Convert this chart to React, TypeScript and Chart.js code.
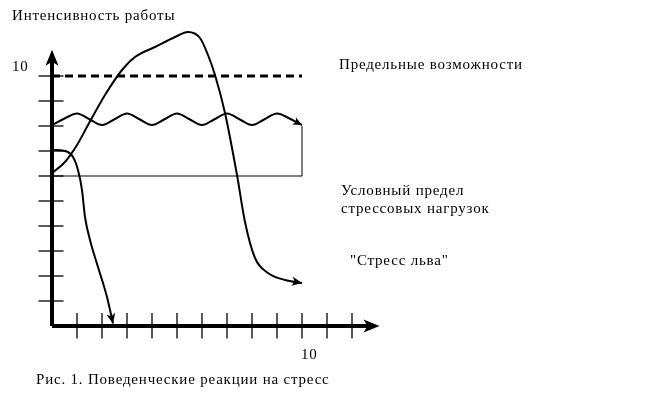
import React, { useEffect, useRef } from "react";
import { Chart, registerables } from "chart.js";

Chart.register(...registerables);

// ---- data (units: one tick = 1) ----
const xAxisX = [0, 12.7];
const xAxisY = [0, 0];
const yAxisX = [0, 0];
const yAxisY = [0, 10.65];
const xAxisTip = 13.1;
const yAxisTip = 11.05;

const xTickValues = [1, 2, 3, 4, 5, 6, 7, 8, 9, 10, 11, 12];
const yTickValues = [1, 2, 3, 4, 5, 6, 7, 8, 9, 10];

const limitDashX = [0, 10];
const limitDashY = [10, 10];

const stressLimitX = [0, 10, 10];
const stressLimitY = [6, 6, 8];

const waveX = [0, 0.5, 1, 1.5, 2, 2.5, 3, 3.5, 4, 4.5, 5, 5.5, 6, 6.5, 7, 7.5, 8, 8.5, 9, 9.5, 10];
const waveY = [8.04, 8.3, 8.5, 8.27, 8.04, 8.27, 8.5, 8.27, 8.04, 8.27, 8.5, 8.27, 8.04, 8.27, 8.5, 8.27, 8.04, 8.27, 8.5, 8.3, 8.04];

const lionX = [0, 0.52, 1.0, 1.44, 2.12, 2.8, 3.32, 4.12, 4.92, 5.44, 5.92, 6.24, 6.52, 6.92, 7.4, 7.72, 8.12, 8.64, 9.32, 10];
const lionY = [6.12, 6.56, 7.24, 8.04, 9.24, 10.24, 10.76, 11.16, 11.56, 11.76, 11.52, 10.84, 10.04, 8.52, 6.04, 4.16, 2.72, 2.12, 1.84, 1.72];

const fallX = [0, 0.52, 0.84, 1.04, 1.2, 1.32, 1.52, 1.84, 2.2, 2.44];
const fallY = [7.04, 7.0, 6.76, 6.24, 5.44, 4.36, 3.44, 2.36, 1.16, 0.1];

const yAxisTitle = "Интенсивность работы";
const yTopLabel = "10";
const xTenLabel = "10";
const maxLabel = "Предельные возможности";
const stressLines = ["Условный предел", "стрессовых нагрузок"];
const lionLabel = "\"Стресс льва\"";
const caption = "Рис. 1. Поведенческие реакции на стресс";

const pts = (xs: number[], ys: number[]) => xs.map((x, i) => ({ x, y: ys[i] }));

const FONT = '15px "Liberation Serif", "Times New Roman", serif';

function arrowHead(ctx: CanvasRenderingContext2D, tx: number, ty: number, fx: number, fy: number, len: number, half: number) {
  const a = Math.atan2(ty - fy, tx - fx);
  const c = Math.cos(a), s = Math.sin(a);
  ctx.beginPath();
  ctx.moveTo(tx, ty);
  ctx.lineTo(tx - len * c + half * s, ty - len * s - half * c);
  ctx.lineTo(tx - len * 0.75 * c, ty - len * 0.75 * s);
  ctx.lineTo(tx - len * c - half * s, ty - len * s + half * c);
  ctx.closePath();
  ctx.fill();
}

const decorPlugin = {
  id: "decor",
  afterDatasetsDraw(chart: any) {
    const ctx: CanvasRenderingContext2D = chart.ctx;
    const xs = chart.scales.x;
    const ys = chart.scales.y;
    const px = (v: number) => xs.getPixelForValue(v);
    const py = (v: number) => ys.getPixelForValue(v);
    ctx.save();
    ctx.strokeStyle = "#000";
    ctx.fillStyle = "#000";
    // ticks
    ctx.lineWidth = 1.3;
    for (const v of yTickValues) {
      ctx.beginPath();
      ctx.moveTo(px(-0.54), py(v));
      ctx.lineTo(px(0.46), py(v));
      ctx.stroke();
    }
    for (const v of xTickValues) {
      ctx.beginPath();
      ctx.moveTo(px(v), py(0.52));
      ctx.lineTo(px(v), py(-0.5));
      ctx.stroke();
    }
    // axis arrows
    arrowHead(ctx, px(0), py(yAxisTip), px(0), py(0), 16, 6.5);
    arrowHead(ctx, px(xAxisTip), py(0), px(0), py(0), 16, 6.5);
    // curve arrows
    const n1 = waveX.length;
    arrowHead(ctx, px(waveX[n1 - 1]), py(waveY[n1 - 1]), px(waveX[n1 - 2]), py(waveY[n1 - 2]), 9, 4);
    const n2 = lionX.length;
    arrowHead(ctx, px(lionX[n2 - 1]), py(lionY[n2 - 1]), px(lionX[n2 - 2]), py(lionY[n2 - 2]), 10, 4.5);
    const n3 = fallX.length;
    arrowHead(ctx, px(fallX[n3 - 1]), py(fallY[n3 - 1]), px(fallX[n3 - 2]), py(fallY[n3 - 2]), 10, 4.5);
    // texts
    ctx.font = FONT;
    (ctx as any).letterSpacing = "0.8px";
    ctx.textBaseline = "alphabetic";
    ctx.textAlign = "left";
    ctx.fillText(yAxisTitle, px(-1.6), py(12.24));
    ctx.fillText(yTopLabel, px(-1.6), py(10.2));
    ctx.fillText(maxLabel, px(11.48), py(10.28));
    ctx.fillText(stressLines[0], px(11.56), py(5.24));
    ctx.fillText(stressLines[1], px(11.56), py(4.52));
    ctx.fillText(lionLabel, px(11.92), py(2.44));
    ctx.fillText(xTenLabel, px(9.96), py(-1.32));
    ctx.fillText(caption, px(-0.64), py(-2.3));
    ctx.restore();
  },
};

export default function App() {
  const ref = useRef<HTMLCanvasElement>(null);
  useEffect(() => {
    if (!ref.current) return;
    const black = "#000";
    const base = { borderColor: black, pointRadius: 0, showLine: true, fill: false };
    const chart = new Chart(ref.current, {
      type: "scatter",
      data: {
        datasets: [
          { ...base, label: "x", data: pts(xAxisX, xAxisY), borderWidth: 4 },
          { ...base, label: "y", data: pts(yAxisX, yAxisY), borderWidth: 4 },
          { ...base, label: "max", data: pts(limitDashX, limitDashY), borderWidth: 3, borderDash: [8, 5] },
          { ...base, label: "limit", data: pts(stressLimitX, stressLimitY), borderWidth: 1 },
          { ...base, label: "wave", data: pts(waveX, waveY), borderWidth: 2, cubicInterpolationMode: "monotone" },
          { ...base, label: "lion", data: pts(lionX, lionY), borderWidth: 2, cubicInterpolationMode: "monotone" },
          { ...base, label: "fall", data: pts(fallX, fallY), borderWidth: 2, cubicInterpolationMode: "monotone" },
        ] as any,
      },
      options: {
        animation: false,
        responsive: false,
        events: [],
        layout: { padding: 0 },
        plugins: { legend: { display: false }, tooltip: { enabled: false } },
        scales: {
          x: { type: "linear", display: false, min: -2.08, max: 24.12 },
          y: { type: "linear", display: false, min: -2.72, max: 13.04 },
        },
      },
      plugins: [decorPlugin],
    });
    return () => chart.destroy();
  }, []);
  return (
    <div style={{ position: "absolute", left: 0, top: 0, width: 655, height: 394, background: "#fff" }}>
      <canvas ref={ref} width={655} height={394} />
    </div>
  );
}
